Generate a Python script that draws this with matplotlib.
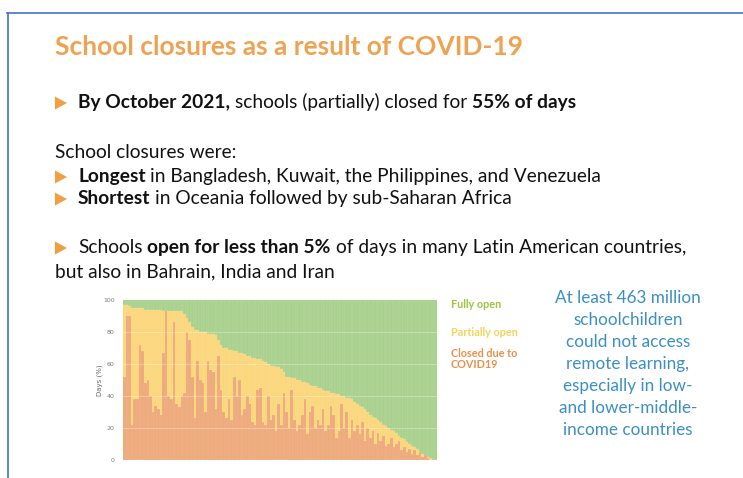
import matplotlib

matplotlib.use("Agg")

import matplotlib.pyplot as plt
import numpy as np
from matplotlib.lines import Line2D
from matplotlib.patches import Polygon

W, H = 743, 478
FONT = ["Lato", "DejaVu Sans"]

# share of days closed due to COVID-19, one bar per country (sorted by open days)
closed = [
    52, 90, 90, 22, 38, 38, 72, 68, 48, 50,
    40, 30, 34, 32, 28, 67, 93, 40, 38, 86,
    35, 33, 40, 42, 80, 75, 52, 26, 62, 50,
    48, 30, 62, 56, 55, 32, 65, 44, 30, 26,
    38, 25, 52, 40, 50, 28, 32, 40, 35, 24,
    22, 44, 45, 24, 22, 40, 25, 28, 18, 35,
    22, 42, 30, 20, 44, 25, 18, 22, 28, 38,
    16, 30, 34, 20, 25, 22, 32, 18, 22, 34,
    28, 14, 18, 35, 20, 30, 14, 25, 18, 22,
    16, 24, 12, 20, 14, 18, 10, 17, 12, 15,
    9, 10, 14, 8, 10, 12, 6, 8, 5, 7,
    4, 6, 3, 5, 2, 3, 1, 0, 0, 0,
]
# share of days closed or partially open (top of the yellow area)
closed_or_partial = [
    97, 97, 96, 95, 95, 95, 95, 95, 94, 94,
    94, 94, 94, 94, 94, 93, 93, 93, 93, 93,
    93, 93, 93, 91, 89, 86, 83, 81, 81, 80,
    80, 80, 79, 79, 79, 78, 75, 72, 70, 70,
    69, 69, 68, 68, 67, 67, 66, 65, 65, 64,
    64, 63, 63, 62, 61, 60, 59, 59, 58, 58,
    57, 55, 52, 52, 51, 51, 50, 50, 49, 49,
    48, 47, 46, 46, 45, 45, 44, 43, 43, 42,
    42, 41, 41, 40, 40, 39, 39, 38, 36, 35,
    34, 33, 32, 30, 28, 27, 26, 25, 24, 22,
    21, 20, 19, 18, 17, 15, 14, 13, 11, 10,
    9, 8, 7, 5, 4, 3, 2, 1, 0, 0,
]
y_ticks = [0, 20, 40, 60, 80, 100]
legend_labels = ["Fully open", "Partially open", "Closed due to\nCOVID19"]

TITLE = "School closures as a result of COVID-19"
BULLET_1 = [("By October 2021,", "bold"), (" schools (partially) closed for ", "normal"), ("55% of days", "bold")]
INTRO = "School closures were:"
BULLET_2 = [("Longest", "bold"), (" in Bangladesh, Kuwait, the Philippines, and Venezuela", "normal")]
BULLET_3 = [("Shortest", "bold"), (" in Oceania followed by sub-Saharan Africa", "normal")]
BULLET_4 = [("Schools ", "normal"), ("open for less than 5%", "bold"),
            (" of days in many Latin American countries,", "normal")]
BULLET_4_CONT = "but also in Bahrain, India and Iran"
SIDE_NOTE = [
    "At least 463 million",
    "schoolchildren",
    "could not access",
    "remote learning,",
    "especially in low-",
    "and lower-middle-",
    "income countries",
]

GREEN = "#a9d18e"
YELLOW = "#fbd77c"
ORANGE = "#eeaa7b"
TITLE_ORANGE = "#eea352"
BULLET_ORANGE = "#f0a040"
BLUE = "#3b8fc4"


def fx(x):
    return x / W


def fy(y):
    return 1 - y / H


def draw_runs(fig, x, y, runs, size, color="#111111"):
    # y is the visual middle of the line; text sits on a shared baseline
    renderer = fig.canvas.get_renderer()
    probe_a = fig.text(0, 0, "a a", fontsize=size, family=FONT)
    probe_b = fig.text(0, 0, "aa", fontsize=size, family=FONT)
    space = probe_a.get_window_extent(renderer).width - probe_b.get_window_extent(renderer).width
    probe_a.remove()
    probe_b.remove()

    base = y + 5
    cur = x
    for text, weight in runs:
        lead = len(text) - len(text.lstrip(" "))
        trail = len(text) - len(text.rstrip(" "))
        cur += lead * space
        t = fig.text(fx(cur), fy(base), text.strip(" "), fontsize=size, fontweight=weight,
                     color=color, va="baseline", ha="left", family=FONT)
        cur += t.get_window_extent(renderer).width + trail * space


def bullet(fig, y):
    tri = Polygon([(fx(55), fy(y - 6.5)), (fx(55), fy(y + 6.5)), (fx(67), fy(y))],
                  closed=True, transform=fig.transFigure, color=BULLET_ORANGE, lw=0)
    fig.add_artist(tri)


fig = plt.figure(figsize=(W / 100, H / 100), dpi=100)
fig.patch.set_facecolor("white")

# slide frame
fig.add_artist(Line2D([fx(7), fx(743)], [fy(13), fy(13)], transform=fig.transFigure,
                      color="#4472c4", lw=1.2))
fig.add_artist(Line2D([fx(8), fx(8)], [fy(13), fy(478)], transform=fig.transFigure,
                      color="#4472c4", lw=1.2))

fig.text(fx(55), fy(47), TITLE, fontsize=19, fontweight="bold", color=TITLE_ORANGE,
         va="center", ha="left", family=FONT)

body = 13.8
bullet(fig, 103)
draw_runs(fig, 78, 103, BULLET_1, body)
draw_runs(fig, 55, 153, [(INTRO, "normal")], body)
bullet(fig, 177)
draw_runs(fig, 78, 177, BULLET_2, body)
bullet(fig, 199)
draw_runs(fig, 78, 199, BULLET_3, body)
bullet(fig, 248)
draw_runs(fig, 78, 248, BULLET_4, body)
draw_runs(fig, 55, 272, [(BULLET_4_CONT, "normal")], body)

# chart
ax = fig.add_axes([fx(123), fy(460), 314 / W, 160 / H])
x = np.arange(len(closed))
top = np.array(closed_or_partial)
low = np.array(closed)
edge = (1, 1, 1, 0.2)
ax.bar(x, 100 - top, bottom=top, width=1.0, color=GREEN, edgecolor=edge, linewidth=0.25)
ax.bar(x, top - low, bottom=low, width=1.0, color=YELLOW, edgecolor=edge, linewidth=0.25)
ax.bar(x, low, width=1.0, color=ORANGE, edgecolor=edge, linewidth=0.25)
ax.set_xlim(-0.5, len(closed) - 0.5)
ax.set_ylim(0, 100)
ax.set_yticks(y_ticks)
ax.set_xticks([])
ax.tick_params(axis="y", length=0, labelsize=4.5, labelcolor="#777777", pad=6)
ax.set_ylabel("Days (%)", fontsize=5, color="#666666")
ax.yaxis.set_label_coords(-0.064, 0.5)
for s in ax.spines.values():
    s.set_visible(False)
for v in y_ticks[1:-1]:
    ax.axhline(v, color="white", alpha=0.35, lw=0.6)

legend_y = [305, 332, 359]
legend_colors = ["#9cc43c", "#f5d35a", "#e8904c"]
for label, ly, lc in zip(legend_labels, legend_y, legend_colors):
    fig.text(fx(451), fy(ly), label, fontsize=7.8, fontweight="bold", color=lc,
             va="center", ha="left", family=FONT, linespacing=1.05)

for i, line in enumerate(SIDE_NOTE):
    fig.text(fx(628), fy(298 + i * 22), line, fontsize=12.3, color=BLUE,
             va="center", ha="center", family=FONT)

fig.savefig("out.png", dpi=100)
